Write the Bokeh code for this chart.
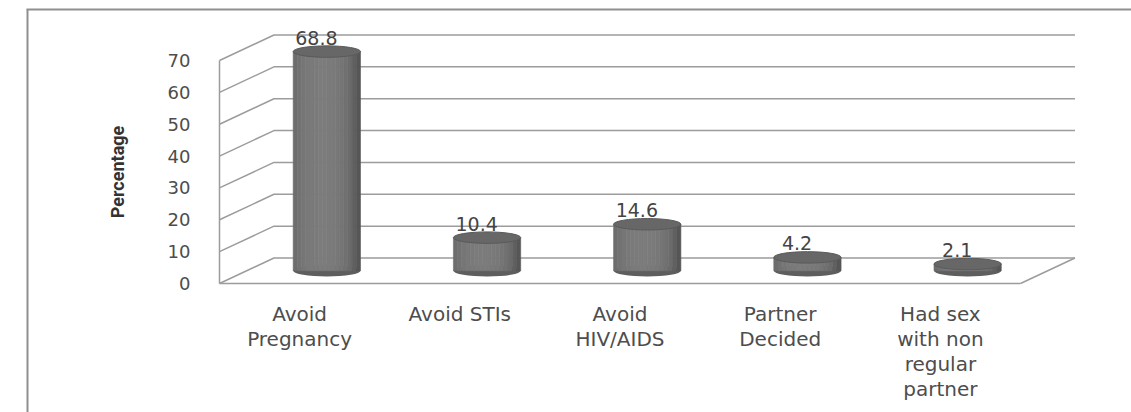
import numpy as np
from bokeh.plotting import figure
from bokeh.models import Range1d, FixedTicker, ColumnDataSource
from bokeh.core.properties import value
from bokeh.embed import file_html
from bokeh.resources import INLINE

# ---- data ----
categories = ["Avoid Pregnancy", "Avoid STIs", "Avoid HIV/AIDS",
              "Partner Decided", "Had sex with non regular partner"]
category_labels = ["Avoid\nPregnancy", "Avoid STIs", "Avoid\nHIV/AIDS",
                   "Partner\nDecided", "Had sex\nwith non\nregular\npartner"]
percentages = [68.8, 10.4, 14.6, 4.2, 2.1]
y_ticks = [0, 10, 20, 30, 40, 50, 60, 70]
y_title = "Percentage"

# ---- layout (pixel position of the front-left floor corner and scales) ----
W, H = 1131, 412
ORIGIN_X, ORIGIN_Y = 219, 283
PX_PER_CAT = 160.2
PX_PER_PCT = 223.0 / 70.0


def data_x(px):
    return (px - ORIGIN_X) / PX_PER_CAT


def data_y(py):
    return (ORIGIN_Y - py) / PX_PER_PCT


DEPTH_X = 0.34     # oblique depth of the box, category units
DEPTH_Y = 8.0      # oblique depth of the box, percentage units
BAR_W = 0.42
CAP_H = 3.6        # ellipse height of the cylinder caps, percentage units
GRID = "#9c9c9c"
BOX = "#8f8f8f"
TEXT = "#4d4d4d"
n = len(categories)

p = figure(width=W, height=H,
           x_range=Range1d(data_x(0), data_x(W)), y_range=Range1d(data_y(H), data_y(0)),
           output_backend="svg", toolbar_location=None, min_border=0)
p.xgrid.visible = False
p.ygrid.visible = False
p.outline_line_color = None
p.background_fill_color = "white"
p.border_fill_color = "white"

# surrounding box: its left and top edges
p.segment(x0=[data_x(27), data_x(26)], y0=[data_y(H + 5), data_y(9)],
          x1=[data_x(27), data_x(W + 5)], y1=[data_y(9), data_y(9)],
          line_color=BOX, line_width=2)

# ---- 3D box: side-wall/back-wall gridlines and floor ----
gx = [[0, DEPTH_X, n + DEPTH_X] for t in y_ticks]
gy = [[t, t + DEPTH_Y, t + DEPTH_Y] for t in y_ticks]
p.multi_line(gx, gy, line_color=GRID, line_width=1.5)
p.line([n, n + DEPTH_X], [0, DEPTH_Y], line_color=GRID, line_width=1.5)

# ---- cylinders ----
xc = np.arange(n) + 0.5 + DEPTH_X / 2
base = DEPTH_Y / 2
vals = np.array(percentages)

N_STRIPES = 16
lefts, rights, tops, bottoms, colors = [], [], [], [], []
for k in range(N_STRIPES):
    u = (k + 0.5) / N_STRIPES * 2 - 1
    shade = int(round(0x56 + (0x7c - 0x56) * np.sqrt(max(0.0, 1 - (u + 0.15) ** 2))))
    col = "#%02x%02x%02x" % (shade, shade, shade)
    for i in range(n):
        lefts.append(xc[i] - BAR_W / 2 + k * BAR_W / N_STRIPES)
        rights.append(xc[i] - BAR_W / 2 + (k + 1) * BAR_W / N_STRIPES)
        bottoms.append(base)
        tops.append(base + vals[i])
        colors.append(col)

# rounded bottom
p.ellipse(x=xc, y=np.full(n, base), width=BAR_W, height=CAP_H,
          fill_color="#5e5e5e", line_color=None)
p.quad(left=lefts, right=rights, bottom=bottoms, top=tops,
       fill_color=colors, line_color=colors, line_width=0.6)
# top cap
p.ellipse(x=xc, y=base + vals, width=BAR_W, height=CAP_H,
          fill_color="#676767", line_color="#5a5a5a", line_width=1)

# value labels
src = ColumnDataSource(dict(x=xc - 0.065, y=base + vals,
                            t=["%.1f" % v for v in percentages]))
p.text(x="x", y="y", text="t", source=src, text_align="center",
       text_baseline="alphabetic", y_offset=-14,
       text_font=value("DejaVu Sans"), text_font_size="19px", text_color="#444444")

# ---- axes, pinned to the front edges of the box ----
yax = p.yaxis[0]
yax.fixed_location = 0
yax.ticker = FixedTicker(ticks=y_ticks)
yax.bounds = (0, 70)
yax.axis_line_color = GRID
yax.axis_line_width = 1.5
yax.major_tick_out = 0
yax.major_tick_in = 0
yax.minor_tick_out = 0
yax.minor_tick_in = 0
yax.major_label_standoff = 29
yax.major_label_text_font = "DejaVu Sans"
yax.major_label_text_font_size = "18px"
yax.major_label_text_color = TEXT

# y-axis title, centred on the 0-70 scale
p.text(x=[data_x(117)], y=[(y_ticks[0] + y_ticks[-1]) / 2], text=[y_title],
       angle=np.pi / 2, text_align="center", text_baseline="middle",
       text_font=value("Roboto"), text_font_style="bold",
       text_font_size="18px", text_color="#333333")

xax = p.xaxis[0]
xax.fixed_location = 0
xax.ticker = FixedTicker(ticks=[i + 0.5 for i in range(n)])
xax.major_label_overrides = {i + 0.5: lab for i, lab in enumerate(category_labels)}
xax.bounds = (0, n)
xax.axis_line_color = GRID
xax.axis_line_width = 1.5
xax.major_tick_out = 0
xax.major_tick_in = 0
xax.minor_tick_out = 0
xax.minor_tick_in = 0
xax.major_label_standoff = 18
xax.major_label_text_font = "DejaVu Sans"
xax.major_label_text_font_size = "20px"
xax.major_label_text_color = TEXT
xax.major_label_text_line_height = 1.05

open("out.html", "w").write(file_html(p, INLINE))
